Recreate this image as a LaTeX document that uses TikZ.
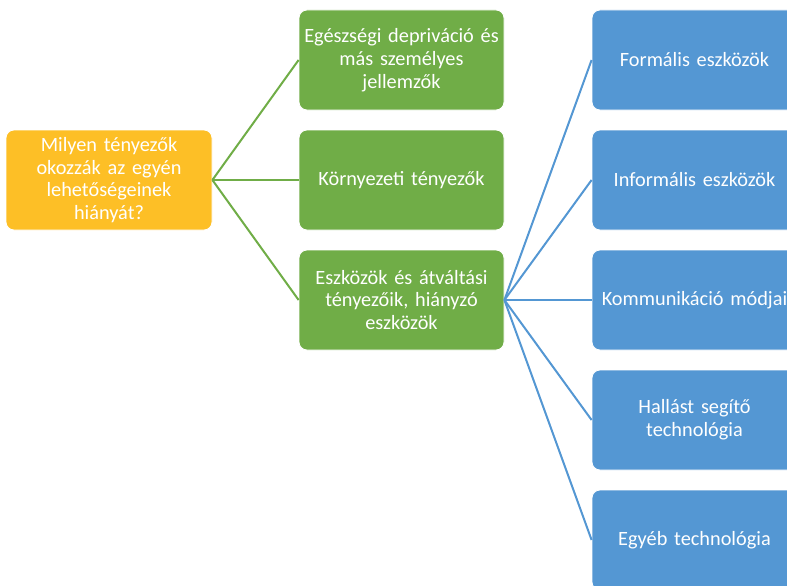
\documentclass[tikz,border=0pt]{standalone}
\usepackage{fontspec}
\setmainfont{Carlito}
\definecolor{gold}{RGB}{253,191,38}
\definecolor{grn}{RGB}{112,173,71}
\definecolor{blu}{RGB}{84,151,211}
\begin{document}
\begin{tikzpicture}[x=1pt,y=-1pt,
  box/.style={rectangle, rounded corners=8pt, minimum width=205pt, minimum height=100pt,
    text width=204pt, align=center, text=white, inner sep=0pt,
    font=\fontsize{20.3}{22.8}\selectfont, draw=white, line width=0.8pt},
  rootbox/.style={box, fill=gold, minimum width=206pt},
  midbox/.style={box, fill=grn},
  leafbox/.style={box, fill=blu},
  glink/.style={draw=grn, line width=2pt},
  blink/.style={draw=blu, line width=2pt}]
\useasboundingbox (0,0) rectangle (787,586);
\clip (0,0) rectangle (787,586);
\node[rootbox] (root) at (109,180) {Milyen tényezők\\okozzák az egyén\\lehetőségeinek\\hiányát?};
\node[midbox] (g1) at (401.5,60) {Egészségi depriváció és\\más személyes\\jellemzők};
\node[midbox] (g2) at (401.5,180) {Környezeti tényezők};
\node[midbox] (g3) at (401.5,300) {Eszközök és átváltási\\tényezőik, hiányzó\\eszközök};
\node[leafbox] (b1) at (694.5,60) {Formális eszközök};
\node[leafbox] (b2) at (694.5,180) {Informális eszközök};
\node[leafbox] (b3) at (694.5,300) {Kommunikáció módjai};
\node[leafbox] (b4) at (694.5,420) {Hallást segítő\\technológia};
\node[leafbox] (b5) at (694.5,540) {Egyéb technológia};
\foreach \g in {g1,g2,g3} \draw[glink] (root.east) -- (\g.west);
\foreach \b in {b1,b2,b3,b4,b5} \draw[blink] (g3.east) -- (\b.west);
\end{tikzpicture}
\end{document}
